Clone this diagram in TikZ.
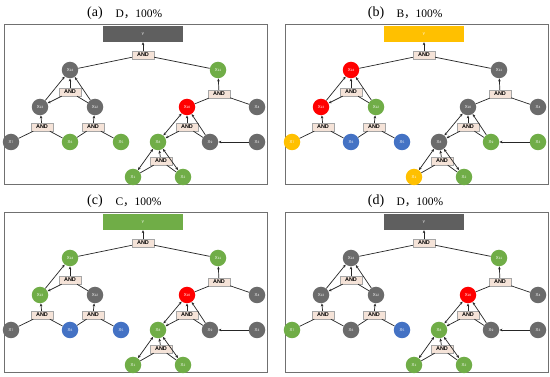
\documentclass[tikz,border=0pt]{standalone}
\usepackage{fontspec}
\setmainfont{Liberation Serif}
\newfontfamily\cjkf{Noto Sans CJK SC}
\newfontfamily\arialf{Liberation Sans}
\usetikzlibrary{arrows.meta}
\definecolor{ngray}{HTML}{6B6B6B}
\definecolor{ngreen}{HTML}{70AD47}
\definecolor{nred}{HTML}{FF0000}
\definecolor{nblue}{HTML}{4472C4}
\definecolor{nyellow}{HTML}{FFC000}
\definecolor{andfill}{HTML}{F5E3D8}
\definecolor{ygray}{HTML}{5F5F5F}
\definecolor{framegray}{HTML}{707070}
\tikzset{
 ev/.style={circle, minimum size=16.5pt, inner sep=0pt, text=white, font=\arialf\fontsize{4.3}{4.3}\selectfont},
 gate/.style={draw=gray!70, fill=andfill, minimum width=22pt, minimum height=8pt, inner sep=0pt, font=\arialf\bfseries\fontsize{5.5}{5.5}\selectfont},
 ln/.style={draw=black!85, line width=0.7pt},
 ar/.style={ln, -{Stealth[length=3pt,width=2.6pt]}},
 dar/.style={ln, {Stealth[length=3pt,width=2.6pt]}-{Stealth[length=3pt,width=2.6pt]}},
 ybox/.style={minimum width=80pt, minimum height=16pt, inner sep=0pt, text=white, font=\arialf\fontsize{4}{4}\selectfont},
}
\newcommand{\xs}[1]{X\raisebox{-0.6pt}{\fontsize{3.2}{3.2}\selectfont #1}}
% #1 prefix, #2 xoff, #3 yoff, #4 label, #5 letter, #6 Y colour, #7 style of X12->X14
\newcommand{\drawtree}[7]{%
\begin{scope}[shift={(#2,#3)}]
\draw[framegray, line width=1pt] (4,25) rectangle (267,185);
\node[font=\fontsize{14}{14}\selectfont] (#1t) at (95,13) {(#4)};
\node[anchor=west, font=\fontsize{11.5}{11.5}\selectfont] (#1s) at (112,14) {#5{\cjkf ，}100\%};
\node[ybox, fill=#6] (#1y) at (143,34) {Y};
\node[gate] (#1g0) at (143,55) {AND};
\node[ev, fill=c14] (#1x14) at (70,70) {\xs{14}};
\node[ev, fill=c11] (#1x11) at (218,70) {\xs{11}};
\node[gate] (#1g1) at (70,92) {AND};
\node[ev, fill=c13] (#1x13) at (40,107) {\xs{13}};
\node[ev, fill=c12] (#1x12) at (95,107) {\xs{12}};
\node[gate] (#1g2) at (42,127) {AND};
\node[gate] (#1g3) at (93,127) {AND};
\node[ev, fill=c7] (#1x7) at (11,142) {\xs{7}};
\node[ev, fill=c6] (#1x6) at (70,142) {\xs{6}};
\node[ev, fill=c5] (#1x5) at (121,142) {\xs{5}};
\node[gate] (#1g4) at (219,94) {AND};
\node[ev, fill=c10] (#1x10) at (187,107) {\xs{10}};
\node[ev, fill=c4] (#1x4) at (257,107) {\xs{4}};
\node[gate] (#1g5) at (187,127) {AND};
\node[ev, fill=c8] (#1x8) at (158,142) {\xs{8}};
\node[ev, fill=c9] (#1x9) at (210,142) {\xs{9}};
\node[ev, fill=c3] (#1x3) at (257,142) {\xs{3}};
\node[gate] (#1g6) at (161,161) {AND};
\node[ev, fill=c1] (#1x1) at (133,177) {\xs{1}};
\node[ev, fill=c2] (#1x2) at (183,177) {\xs{2}};
\draw[ar] (#1g0) -- (#1y);
\draw[ln] (#1x14) -- (#1g0);
\draw[ln] (#1x11) -- (#1g0);
\draw[ar] (#1g1) -- (#1x14);
\draw[ar] (#1g1) -- (#1x13);
\draw[ar] (#1x13) -- (#1x14);
\draw[ln] (#1g1) -- (#1x12);
\draw[#7] (#1x12) -- (#1x14);
\draw[ar] (#1g2) -- (#1x13);
\draw[ln] (#1x7) -- (#1g2);
\draw[ln] (#1x6) -- (#1g2);
\draw[ar] (#1g3) -- (#1x12);
\draw[ln] (#1x6) -- (#1g3);
\draw[ln] (#1x5) -- (#1g3);
\draw[ar] (#1g4) -- (#1x11);
\draw[ln] (#1x10) -- (#1g4);
\draw[ln] (#1x4) -- (#1g4);
\draw[ar] (#1g5) -- (#1x10);
\draw[ar] (#1g5) -- (#1x8);
\draw[dar] (#1x8) -- (#1x10);
\draw[ln] (#1g5) -- (#1x9);
\draw[ar] (#1x9) -- (#1x10);
\draw[ar] (#1x3) -- (#1x9);
\draw[ar] (#1g6) -- (#1x8);
\draw[dar] (#1x1) -- (#1x8);
\draw[dar] (#1x2) -- (#1x8);
\draw[ln] (#1g6) -- (#1x1);
\draw[ln] (#1g6) -- (#1x2);
\end{scope}}
\begin{document}
\begin{tikzpicture}[x=1pt,y=-1pt]
\useasboundingbox (0,0) rectangle (550,377);
\fill[white] (0,0) rectangle (550,377);
% panel (a)
\colorlet{c14}{ngray}\colorlet{c11}{ngreen}\colorlet{c13}{ngray}\colorlet{c12}{ngray}
\colorlet{c7}{ngray}\colorlet{c6}{ngreen}\colorlet{c5}{ngreen}\colorlet{c10}{nred}
\colorlet{c4}{ngray}\colorlet{c8}{ngreen}\colorlet{c9}{ngray}\colorlet{c3}{ngray}
\colorlet{c1}{ngreen}\colorlet{c2}{ngreen}
\drawtree{a}{0}{0}{a}{D}{ygray}{ar}
% panel (b)
\colorlet{c14}{nred}\colorlet{c11}{ngray}\colorlet{c13}{nred}\colorlet{c12}{ngreen}
\colorlet{c7}{nyellow}\colorlet{c6}{nblue}\colorlet{c5}{nblue}\colorlet{c10}{ngray}
\colorlet{c4}{ngray}\colorlet{c8}{ngray}\colorlet{c9}{ngreen}\colorlet{c3}{ngreen}
\colorlet{c1}{nyellow}\colorlet{c2}{ngreen}
\drawtree{b}{281}{0}{b}{B}{nyellow}{ar}
% panel (c)
\colorlet{c14}{ngreen}\colorlet{c11}{ngreen}\colorlet{c13}{ngreen}\colorlet{c12}{ngray}
\colorlet{c7}{ngray}\colorlet{c6}{nblue}\colorlet{c5}{nblue}\colorlet{c10}{nred}
\colorlet{c4}{ngray}\colorlet{c8}{ngreen}\colorlet{c9}{ngray}\colorlet{c3}{ngray}
\colorlet{c1}{ngreen}\colorlet{c2}{ngreen}
\drawtree{c}{0}{188}{c}{C}{ngreen}{draw=none}
% panel (d)
\colorlet{c14}{ngray}\colorlet{c11}{ngreen}\colorlet{c13}{ngray}\colorlet{c12}{ngray}
\colorlet{c7}{ngreen}\colorlet{c6}{ngray}\colorlet{c5}{nblue}\colorlet{c10}{nred}
\colorlet{c4}{ngray}\colorlet{c8}{ngreen}\colorlet{c9}{ngray}\colorlet{c3}{ngray}
\colorlet{c1}{ngreen}\colorlet{c2}{ngreen}
\drawtree{d}{281}{188}{d}{D}{ygray}{ar}
\end{tikzpicture}
\end{document}
